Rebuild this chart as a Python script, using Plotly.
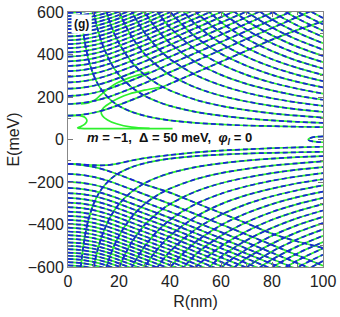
import plotly.graph_objects as go

# ---------------- data ----------------
# R sampling for the confinement ("fan") levels; each row is aligned to the END of R_A
R_A = [4, 5, 6, 7, 8, 10, 12, 14, 17, 20, 25, 30, 35, 40, 50, 60, 70, 80, 90, 100]
A_upper = [
    [752, 602, 503, 432, 378, 304, 255, 220, 183, 158, 130, 112, 99, 90, 78, 71, 66, 63, 60, 58],
    [752, 602, 503, 432, 356, 304, 245, 206, 179, 158, 130, 112, 99, 90, 83, 78],
    [645, 532, 453, 364, 304, 262, 231, 187, 158, 138, 123, 112, 103],
    [708, 602, 483, 403, 347, 304, 245, 206, 179, 158, 142, 130],
    [752, 602, 503, 432, 378, 304, 255, 220, 194, 174, 158],
    [722, 602, 517, 453, 364, 304, 262, 231, 206, 187],
    [702, 602, 527, 423, 354, 304, 267, 239, 216],
    [688, 602, 483, 403, 347, 304, 271, 245],
    [677, 542, 453, 389, 341, 304, 275],
    [752, 602, 503, 432, 378, 337, 304],
    [662, 552, 474, 416, 370, 334],
    [722, 602, 517, 453, 403, 364],
    [652, 559, 490, 436, 393],
    [702, 602, 527, 469, 423],
    [645, 565, 503, 453],
    [688, 602, 536, 483],
    [640, 569, 512],
    [677, 602, 542],
    [635, 572],
]
A_lower = [
    [-752, -602, -503, -432, -378, -304, -255, -220, -183, -158, -130, -112, -99, -90, -78, -71, -66, -63, -60, -58],
    [-752, -602, -503, -432, -356, -304, -245, -206, -179, -158, -130, -112, -99, -90, -83, -78],
    [-645, -532, -453, -364, -304, -262, -231, -187, -158, -138, -123, -112, -103],
    [-708, -602, -483, -403, -347, -304, -245, -206, -179, -158, -142, -130],
    [-752, -602, -503, -432, -378, -304, -255, -220, -194, -174, -158],
    [-722, -602, -517, -453, -364, -304, -262, -231, -206, -187],
    [-702, -602, -527, -423, -354, -304, -267, -239, -216],
    [-688, -602, -483, -403, -347, -304, -271, -245],
    [-677, -542, -453, -389, -341, -304, -275],
    [-752, -602, -503, -432, -378, -337, -304],
    [-662, -552, -474, -416, -370, -334],
    [-722, -602, -517, -453, -403, -364],
    [-652, -559, -490, -436, -393],
    [-702, -602, -527, -469, -423],
    [-645, -565, -503, -453],
    [-688, -602, -536, -483],
    [-640, -569, -512],
    [-677, -602, -542],
    [-635, -572],
]

# R sampling for the Landau-like levels; each row is aligned to the START of R_B
R_B = [0, 5, 10, 15, 20, 30, 40, 50, 60, 70, 80, 90, 100]
B_upper = [
    [112, 116, 126, 142, 163, 210, 262, 314, 366, 418, 470, 516, 556],
    [167, 171, 181, 197, 218, 265, 317, 369, 421, 473, 525, 577, 629],
    [205, 209, 219, 235, 256, 303, 355, 407, 459, 511, 563, 615],
    [239, 243, 253, 269, 290, 337, 389, 441, 493, 545, 597, 649],
    [269, 273, 283, 299, 320, 367, 419, 471, 523, 575, 627],
    [296, 300, 310, 326, 347, 394, 446, 498, 550, 602],
    [322, 326, 336, 352, 373, 420, 472, 524, 576, 628],
    [346, 350, 360, 376, 397, 444, 496, 548, 600, 652],
    [368, 372, 382, 398, 419, 466, 518, 570, 622],
    [390, 394, 404, 420, 441, 488, 540, 592, 644],
    [410, 414, 424, 440, 461, 508, 560, 612],
    [430, 434, 444, 460, 481, 528, 580, 632],
    [449, 453, 463, 479, 500, 547, 599, 651],
    [467, 471, 481, 497, 518, 565, 617],
    [485, 489, 499, 515, 536, 583, 635],
    [502, 506, 516, 532, 553, 600, 652],
    [519, 523, 533, 549, 570, 617],
    [535, 539, 549, 565, 586, 633],
    [551, 555, 565, 581, 602],
    [566, 570, 580, 596, 617],
    [581, 585, 595, 611],
    [596, 600, 610],
]
B_lower = [
    [-115, -119, -129, -145, -166, -211, -250, -298, -346, -394, -443, -480, -510],
    [-162, -166, -176, -192, -213, -258, -303, -351, -399, -447, -496, -545, -594],
    [-199, -203, -213, -229, -250, -295, -340, -388, -436, -484, -533, -582, -631],
    [-228, -232, -242, -258, -279, -324, -369, -417, -465, -513, -562, -611],
    [-252, -256, -266, -282, -303, -348, -393, -441, -489, -537, -586, -635],
    [-275, -279, -289, -305, -326, -371, -416, -464, -512, -560, -609],
    [-297, -301, -311, -327, -348, -393, -438, -486, -534, -582, -631],
    [-318, -322, -332, -348, -369, -414, -459, -507, -555, -603],
    [-339, -343, -353, -369, -390, -435, -480, -528, -576, -624],
    [-359, -363, -373, -389, -410, -455, -500, -548, -596, -644],
    [-378, -382, -392, -408, -429, -474, -519, -567, -615],
    [-397, -401, -411, -427, -448, -493, -538, -586, -634],
    [-415, -419, -429, -445, -466, -511, -556, -604],
    [-433, -437, -447, -463, -484, -529, -574, -622],
    [-450, -454, -464, -480, -501, -546, -591, -639],
    [-467, -471, -481, -497, -518, -563, -608],
    [-484, -488, -498, -514, -535, -580, -625],
    [-500, -504, -514, -530, -551, -596, -641],
    [-516, -520, -530, -546, -567, -612],
    [-532, -536, -546, -562, -583, -628],
    [-547, -551, -561, -577, -598, -643],
    [-562, -566, -576, -592, -613],
    [-577, -581, -591, -607],
    [-592, -596, -606],
]

# in-gap level below zero (both methods)
L0_R = [0, 5, 10, 15, 20, 25, 30, 40, 50, 60, 70, 80, 90, 100]
L0_E = [-115, -117, -121, -121, -112, -99, -88, -73, -61, -52, -46, -41, -37, -34]
# near-zero loop at large R (both methods)
Z_R = [100, 97.5, 95.5, 94.5, 94.2, 94.5, 95.5, 97.5, 100]
Z_E = [15, 13, 9, 4, 0, -4, -8, -11, -13]
# green-only branches (anticrossings of the full calculation)
G1_R = [0, 3, 5.5, 7, 7.4, 6.6, 5, 3.8, 5, 10, 20, 30, 41]
G1_E = [112, 113, 110, 100, 86, 72, 61, 55, 52, 51, 51, 51, 51]
G2_R = [32, 25, 19, 15.5, 13.5, 13, 14, 16.5, 20, 24, 30, 36]
G2_E = [52, 58, 74, 92, 112, 130, 150, 172, 195, 214, 232, 246]
G3_R = [5, 8, 11, 14, 18, 24, 32]
G3_E = [167, 172, 190, 222, 258, 290, 318]

x_ticks = [0, 20, 40, 60, 80, 100]
y_ticks = [-600, -400, -200, 0, 200, 400, 600]

# ---------------- build ----------------
def collect(curves):
    xs, ys = [], []
    for cx, cy in curves:
        xs.extend(cx); ys.extend(cy)
        xs.append(None); ys.append(None)
    return xs, ys

common = []
for row in A_upper + A_lower:
    common.append((R_A[-len(row):], row))
for row in B_upper + B_lower:
    common.append((R_B[:len(row)], row))
common.append((L0_R, L0_E))
common.append((Z_R, Z_E))

green_only = [(G1_R, G1_E), (G2_R, G2_E), (G3_R, G3_E)]

gx, gy = collect(common + green_only)
bx, by = collect(common)

GREEN = "rgb(45,240,45)"
BLUE = "rgb(25,35,215)"

fig = go.Figure()
fig.add_trace(go.Scatter(x=gx, y=gy, mode="lines",
                         line=dict(color=GREEN, width=1.7, shape="spline", smoothing=0.8),
                         showlegend=False, hoverinfo="skip"))
fig.add_trace(go.Scatter(x=bx, y=by, mode="lines",
                         line=dict(color=BLUE, width=1.7, dash="5px,3px", shape="spline", smoothing=0.8),
                         showlegend=False, hoverinfo="skip"))

FONT = "Arial, Liberation Sans, sans-serif"
NB = "\u00a0"
fig.add_annotation(x=6.5, y=6, xref="x", yref="y", xanchor="left", yanchor="middle",
                   text=f"<b><i>m</i>{NB}={NB}\u22121,{NB}{NB}\u0394{NB}={NB}50{NB}meV,{NB}{NB}<i>\u03c6</i><sub><i>l</i></sub>{NB}={NB}0</b>",
                   showarrow=False, font=dict(family=FONT, size=13, color="#111"))
fig.add_annotation(x=1.3, y=543, xref="x", yref="y", xanchor="left", yanchor="middle",
                   text="<b>(g)</b>", showarrow=False, bgcolor="white", borderpad=2,
                   font=dict(family=FONT, size=12, color="#111"))

axis_common = dict(showgrid=False, zeroline=False, showline=True, linecolor="#888", linewidth=1,
                   mirror="allticks", ticks="inside", ticklen=5, tickcolor="#777", tickwidth=1,
                   automargin=False, ticklabeloverflow="allow",
                   tickfont=dict(family=FONT, size=16, color="#222"))
fig.update_xaxes(range=[0, 100], tickvals=x_ticks, ticktext=[str(v) for v in x_ticks],
                 title=dict(text="R(nm)", font=dict(family=FONT, size=16, color="#222"), standoff=6),
                 minor=dict(ticks="inside", ticklen=3, dtick=10, tickcolor="#777"),
                 **axis_common)
fig.update_yaxes(range=[-600, 600], tickvals=y_ticks,
                 ticktext=[str(v).replace("-", "\u2212") for v in y_ticks],
                 title=dict(text="E(meV)", font=dict(family=FONT, size=16, color="#222"), standoff=4),
                 minor=dict(ticks="inside", ticklen=3, dtick=100, tickcolor="#777"),
                 **axis_common)
fig.update_layout(width=340, height=317, margin=dict(l=68, r=17, t=12, b=50),
                  paper_bgcolor="white", plot_bgcolor="white", showlegend=False)

# remove the default 8px page margin so the figure fills the 340x317 window exactly
fig.write_html("out.html", config={"displayModeBar": False, "staticPlot": True},
               post_script="document.body.style.margin='0';document.body.style.overflow='hidden';")
